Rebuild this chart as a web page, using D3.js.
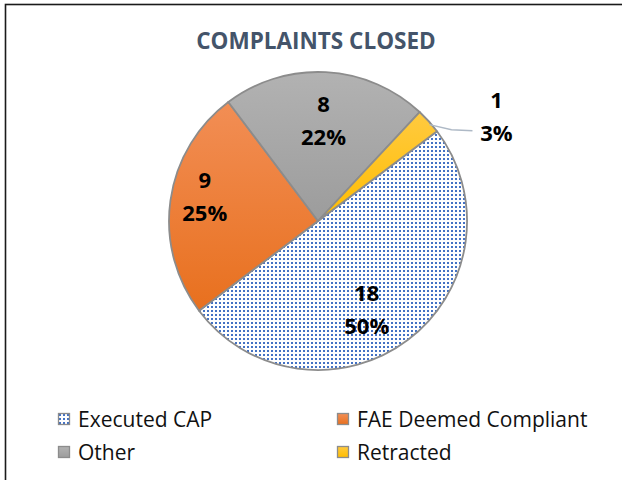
<!DOCTYPE html>
<html>
<head>
<meta charset="utf-8">
<script src="https://cdn.jsdelivr.net/npm/d3@7"></script>
<style>
  body { margin: 0; background: #fff; }
  svg { display: block; }
  text { font-family: "Open Sans", "Noto Sans", sans-serif; }
</style>
</head>
<body>
<svg id="chart" width="622" height="480"></svg>
<script>
// data
var categories = ["Executed CAP", "FAE Deemed Compliant", "Other", "Retracted"];
var counts = [18, 9, 8, 1];
var pctLabels = ["50%", "25%", "22%", "3%"];
var legendOrder = ["Executed CAP", "FAE Deemed Compliant", "Other", "Retracted"];

var W = 622, H = 480;
var cx = 318, cy = 221, R = 149;
var startDeg = 53;
// small per-slice label nudges (Excel best-fit placement)
var labelNudge = [[-14, 5], [-10, -10], [0, 4], [0, 0]];

var svg = d3.select("#chart");
var defs = svg.append("defs");

// dotted pattern for Executed CAP
var pat = defs.append("pattern")
  .attr("id", "dots")
  .attr("patternUnits", "userSpaceOnUse")
  .attr("width", 4).attr("height", 4);
pat.append("rect").attr("width", 4).attr("height", 4).attr("fill", "#fff");
pat.append("rect").attr("x", 1).attr("y", 1).attr("width", 2).attr("height", 2).attr("fill", "#4472C4");

function grad(id, c1, c2) {
  var g = defs.append("linearGradient").attr("id", id)
    .attr("x1", 0).attr("y1", 0).attr("x2", 0).attr("y2", 1);
  g.append("stop").attr("offset", "0%").attr("stop-color", c1);
  g.append("stop").attr("offset", "100%").attr("stop-color", c2);
}
grad("gOrange", "#F28E55", "#E8701E");
grad("gGray", "#B2B2B2", "#9C9C9C");
grad("gGold", "#FFCA40", "#FFBD00");

var fills = {
  "Executed CAP": "url(#dots)",
  "FAE Deemed Compliant": "url(#gOrange)",
  "Other": "url(#gGray)",
  "Retracted": "url(#gGold)"
};

// chart border (only top & left visible in frame)
svg.append("rect")
  .attr("x", 5.5).attr("y", 4.5)
  .attr("width", W + 10).attr("height", H + 10)
  .attr("fill", "none")
  .attr("stroke", "#1a1a1a")
  .attr("stroke-width", 1.6);

// title
svg.append("text")
  .attr("x", 316).attr("y", 49)
  .attr("text-anchor", "middle")
  .style("font-size", "22.5px")
  .style("font-weight", "bold")
  .style("fill", "#44546A")
  .text("COMPLAINTS CLOSED");

// pie
var data = categories.map((c, i) => ({cat: c, v: counts[i], pct: pctLabels[i], i: i}));
var pie = d3.pie().sort(null).value(d => d.v)
  .startAngle(startDeg * Math.PI / 180)
  .endAngle((startDeg + 360) * Math.PI / 180);
var arcs = pie(data);
var arc = d3.arc().innerRadius(0).outerRadius(R);
var labelArc = d3.arc().innerRadius(R * 0.7).outerRadius(R * 0.7);

var g = svg.append("g").attr("transform", `translate(${cx},${cy})`);

g.selectAll("path.slice")
  .data(arcs)
  .join("path")
    .attr("class", "slice")
    .attr("d", arc)
    .attr("fill", d => fills[d.data.cat])
    .attr("stroke", "#8C8C8C")
    .attr("stroke-width", 1.8)
    .attr("stroke-linejoin", "round");

function addLabel(sel, d) {
  sel.append("tspan").attr("x", 0).attr("y", -8.5).text(d.data.v);
  sel.append("tspan").attr("x", 0).attr("y", 24.5).text(d.data.pct);
}

// labels inside for big slices
g.selectAll("text.lbl")
  .data(arcs.filter(d => d.data.v > 2))
  .join("text")
    .attr("class", "lbl")
    .attr("text-anchor", "middle")
    .style("font-size", "22px")
    .style("font-weight", "bold")
    .style("fill", "#000")
    .attr("transform", d => {
      var c = labelArc.centroid(d), n = labelNudge[d.data.i];
      return `translate(${c[0] + n[0]},${c[1] + n[1]})`;
    })
    .each(function(d) { addLabel(d3.select(this), d); });

// outside label for small slice with leader line
arcs.filter(d => d.data.v <= 2).forEach(d => {
  var mid = (d.startAngle + d.endAngle) / 2;
  var ex = Math.sin(mid) * (R + 1), ey = -Math.cos(mid) * (R + 1) + 4;
  var lx = ex + 43, ly = ey + 6;
  g.append("path")
    .attr("d", `M${ex},${ey} L${ex + 22},${ey + 5} L${lx},${ly}`)
    .attr("fill", "none")
    .attr("stroke", "#AEB9C6")
    .attr("stroke-width", 1.5);
  var t = g.append("text")
    .attr("text-anchor", "middle")
    .style("font-size", "22px")
    .style("font-weight", "bold")
    .style("fill", "#000")
    .attr("transform", `translate(${ex + 67},${ey - 8})`);
  addLabel(t, d);
});

// legend
var legX = d3.scalePoint().domain([0, 1]).range([58, 337]);
var legY = d3.scalePoint().domain([0, 1]).range([413, 446]);
var leg = svg.selectAll("g.leg")
  .data(legendOrder)
  .join("g")
    .attr("class", "leg")
    .attr("transform", (d, i) => `translate(${legX(i % 2)},${legY(Math.floor(i / 2))})`);
leg.append("rect")
  .attr("x", 0.5).attr("y", 0.5)
  .attr("width", 11).attr("height", 11)
  .attr("fill", d => fills[d])
  .attr("stroke", "#8C8C8C")
  .attr("stroke-width", 1.3);
leg.append("text")
  .attr("x", 20).attr("y", 13.5)
  .style("font-size", "21px")
  .style("fill", "#111")
  .text(d => d);
</script>
</body>
</html>
